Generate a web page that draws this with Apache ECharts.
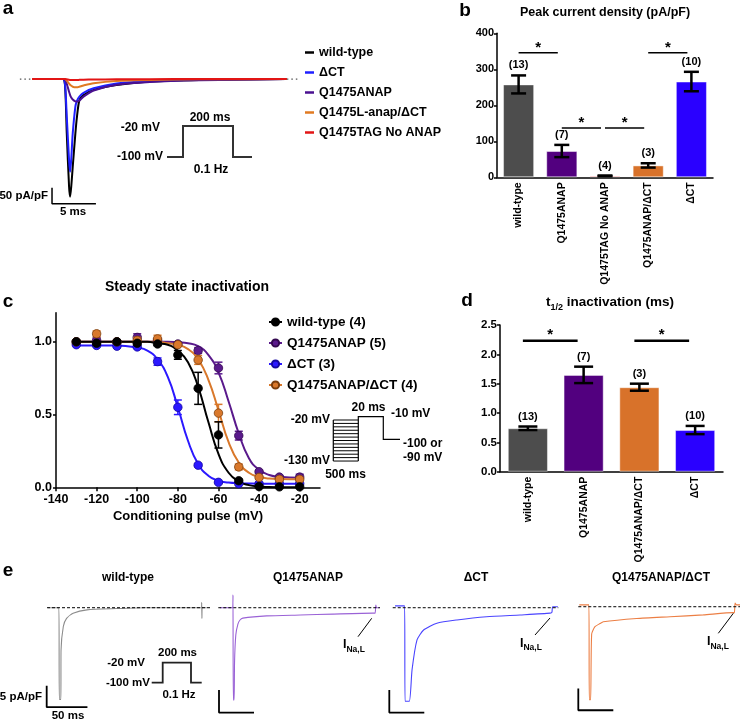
<!DOCTYPE html>
<html><head><meta charset="utf-8">
<script src="https://cdn.jsdelivr.net/npm/echarts@6/dist/echarts.min.js"></script>
<style>html,body{margin:0;padding:0;background:#fff}#c{width:744px;height:721px}</style>
</head><body><div id="c"></div>
<script>
// ---------- Panel a: representative current traces (ms, pA/pF) ----------
const aTime      = [0, 3.5, 3.75, 3.94, 4.2, 4.32, 4.45, 4.62, 4.92, 5.1, 5.38, 5.85, 7.0, 9.6, 13.4, 19, 29];
const aWildType  = [0, 0, -24, -170, -336, -368, -336, -274, -170, -118, -66, -50, -34, -19, -8, -3, 0];
const aDeltaCT   = [0, 0, -20, -118, -253, -290, -250, -170, -86, -68, -55, -43, -29, -14, -6, -2, 0];
const aQ1475ANAP = [0, 0, -3, -15, -40, -50, -58, -64, -70, -71, -67, -55, -36, -18, -9, -4, 0];
const aQ1475L    = [0, 0, 0, -5, -14, -18, -21, -24, -26, -26, -24, -20, -13, -6, -3, -1, 0];
const aTAGNoANAP = [0, 0, 0, -1, -2, -3, -3, -3, -3, -3, -2.5, -2, -1.5, -1, -0.5, 0, 0];
const aLegend = ['wild-type', 'ΔCT', 'Q1475ANAP', 'Q1475L-anap/ΔCT', 'Q1475TAG No ANAP'];

// ---------- Panel b: peak current density ----------
const bCategories = ['wild-type', 'Q1475ANAP', 'Q1475TAG No ANAP', 'Q1475ANAP/ΔCT', 'ΔCT'];
const bMeans  = [258, 73, 4, 33, 266];
const bErrors = [25, 17, 1, 6, 27];
const bN      = [13, 7, 4, 3, 10];
const bSig    = [[0, 1, 346], [1, 2, 137], [2, 3, 137], [3, 4, 346]];

// ---------- Panel c: steady state inactivation ----------
const cVoltage = [-130, -120, -110, -100, -90, -80, -70, -60, -50, -40, -30, -20];
const cWT      = [1.0, 0.99, 1.0, 0.99, 0.985, 0.91, 0.68, 0.36, 0.045, 0.005, 0.003, 0.003];
const cWTErr   = [0, 0.01, 0.005, 0.01, 0.01, 0.03, 0.11, 0.09, 0.01, 0, 0, 0];
const cQ       = [1.0, 1.01, 1.0, 1.03, 1.01, 0.985, 0.94, 0.82, 0.355, 0.107, 0.07, 0.07];
const cQErr    = [0.005, 0.02, 0.01, 0.025, 0.01, 0.01, 0.02, 0.04, 0.03, 0.01, 0.01, 0.02];
const cDCT     = [0.98, 0.975, 0.97, 0.965, 0.864, 0.55, 0.152, 0.034, 0.025, 0.025, 0.025, 0.025];
const cDCTErr  = [0.005, 0.005, 0.01, 0.01, 0.025, 0.05, 0.01, 0.005, 0, 0, 0, 0];
const cQD      = [1.0, 1.055, 1.0, 1.01, 1.02, 0.98, 0.875, 0.51, 0.14, 0.068, 0.055, 0.055];
const cQDErr   = [0, 0.02, 0.005, 0.02, 0.025, 0.01, 0.03, 0.06, 0.02, 0.01, 0.01, 0.01];
// fitted curves
const cFitVoltage = [-130, -120, -110, -100, -95, -90, -85, -80, -75, -70, -65, -60, -55, -50, -45, -40, -35, -30, -20];
const cFitWT  = [1, 1, 1, 1, 1, 0.99, 0.98, 0.94, 0.86, 0.69, 0.45, 0.23, 0.10, 0.04, 0.015, 0.005, 0.002, 0.001, 0];
const cFitQ   = [1, 1, 1, 1, 1, 1, 1, 0.996, 0.99, 0.97, 0.91, 0.79, 0.59, 0.37, 0.20, 0.12, 0.085, 0.072, 0.066];
const cFitDCT = [0.975, 0.975, 0.974, 0.96, 0.94, 0.88, 0.76, 0.55, 0.32, 0.16, 0.08, 0.045, 0.033, 0.028, 0.026, 0.025, 0.025, 0.025, 0.025];
const cFitQD  = [1, 1, 1, 1, 1, 1, 0.99, 0.98, 0.95, 0.88, 0.74, 0.53, 0.31, 0.17, 0.10, 0.072, 0.061, 0.057, 0.055];
const cLegend = ['wild-type (4)', 'Q1475ANAP (5)', 'ΔCT (3)', 'Q1475ANAP/ΔCT (4)'];
const cXTicks = [-140, -120, -100, -80, -60, -40, -20];
const cYTicks = [0, 0.5, 1.0];

// ---------- Panel d: t1/2 inactivation ----------
const dCategories = ['wild-type', 'Q1475ANAP', 'Q1475ANAP/ΔCT', 'ΔCT'];
const dMeans  = [0.74, 1.65, 1.44, 0.71];
const dErrors = [0.03, 0.14, 0.06, 0.07];
const dN      = [13, 7, 3, 10];
const dSig    = [[0, 1, 2.23], [2, 3, 2.23]];

// ---------- Panel e: late current traces (ms, pA/pF) ----------
const eWTTime    = [1, 14.6, 15.1, 17.0, 17.2, 20, 24, 32, 49, 85, 120, 160, 189.5, 189.8, 190.1, 190.4, 196];
const eWTCurrent = [0, 0, -21.5, -21.5, -10, -4.4, -2.5, -1.3, -0.5, -0.2, 0, 0, 0, 1.2, -2.5, 0, 0];
const eQTime     = [2.4, 20.5, 21.0, 21.4, 22.6, 23.2, 25, 28, 31, 35, 69, 117, 164, 221, 224, 225, 226, 230];
const eQCurrent  = [0, 0, 2.8, -20.3, -20.3, -12, -6, -3.6, -2.7, -2.3, -1.8, -1.6, -1.4, -1.2, -1.2, 0.6, 0, 0];
const eDTime     = [3.3, 17, 17.6, 23.7, 27.6, 34.7, 44.1, 63.1, 91.7, 134, 182, 225, 227.5, 228.6, 236];
const eDCurrent  = [0.4, 0.4, -20.6, -20.6, -13.7, -7.1, -4.9, -3.4, -2.7, -2.0, -1.6, -1.2, -1.0, 0.2, 0.2];
const eQDTime    = [1.4, 15.2, 15.7, 17.6, 19.1, 23.8, 31, 35.7, 83.4, 131, 178.6, 221.4, 223, 224, 226, 231];
const eQDCurrent = [0.4, 0.4, -20.5, -20.5, -6, -4.4, -3.7, -3.3, -2.6, -2.2, -1.8, -1.3, -1.3, 0.8, 0.4, 0.4];
const eTitles = ['wild-type', 'Q1475ANAP', 'ΔCT', 'Q1475ANAP/ΔCT'];

// ================= drawing =================
const FONT = '"Liberation Sans", Arial, Helvetica, sans-serif';
const zip = (xs, ys) => xs.map((x, i) => [x, ys[i]]);
const chart = echarts.init(document.getElementById('c'), null, {renderer: 'canvas'});

function txt(x, y, text, size, align, extra) {
  return {type: 'text', x: x, y: y, silent: true, z: 100,
    style: Object.assign({text: text, fontSize: size, fontWeight: 'bold', fontFamily: FONT,
      fill: '#000', align: align || 'center', verticalAlign: 'middle'}, extra || {})};
}
function poly(points, w, color) {
  return {type: 'polyline', silent: true, z: 100, shape: {points: points},
    style: {stroke: color || '#000', lineWidth: w || 1.5, fill: null}};
}
const subRich = (main, sub) => ({m: {fontSize: main, fontWeight: 'bold', fontFamily: FONT, lineHeight: main + 6},
  s: {fontSize: sub, fontWeight: 'bold', fontFamily: FONT, verticalAlign: 'bottom', lineHeight: sub}});

const boldLabel = (size) => ({color: '#000', fontWeight: 'bold', fontSize: size, fontFamily: FONT});
const blackLine = {show: true, lineStyle: {color: '#000', width: 1.5}};

// grids
const grids = [
  {left: 19, top: 40, width: 281, height: 183},          // 0 a
  {left: 497, top: 33.3, width: 216, height: 144},       // 1 b
  {left: 56, top: 312.7, width: 264, height: 174.6},     // 2 c
  {left: 500, top: 325, width: 223, height: 146.7},      // 3 d
  {left: 46.2, top: 594.9, width: 163.8, height: 115.3}, // 4 e wt
  {left: 218.3, top: 594.1, width: 161.7, height: 122.6},// 5 e Q
  {left: 389.3, top: 594.1, width: 169, height: 122.6},  // 6 e dCT
  {left: 578.3, top: 593.1, width: 161.7, height: 122.6} // 7 e QD
];

const xAxes = [
  {gridIndex: 0, type: 'value', min: -1.5, max: 30.5, show: false},
  {gridIndex: 1, type: 'category', data: bCategories, axisLine: blackLine, axisTick: {show: false},
    axisLabel: Object.assign(boldLabel(10.5), {rotate: 90, interval: 0, margin: 5})},
  {gridIndex: 2, type: 'value', min: -140, max: -10, interval: 20, axisLine: blackLine,
    axisTick: {show: true, length: 4, lineStyle: {color: '#000', width: 1.5}, customValues: cXTicks},
    axisLabel: Object.assign(boldLabel(12.5), {margin: 6, customValues: cXTicks}),
    splitLine: {show: false},
    name: 'Conditioning pulse (mV)', nameLocation: 'middle', nameGap: 23,
    nameTextStyle: boldLabel(13)},
  {gridIndex: 3, type: 'category', data: dCategories, axisLine: blackLine, axisTick: {show: false},
    axisLabel: Object.assign(boldLabel(10.5), {rotate: 90, interval: 0, margin: 5})},
  {gridIndex: 4, type: 'value', min: -1, max: 200, show: false},
  {gridIndex: 5, type: 'value', min: 0, max: 231, show: false},
  {gridIndex: 6, type: 'value', min: -4.9, max: 236.6, show: false},
  {gridIndex: 7, type: 'value', min: 0, max: 231, show: false}
];
const yAxes = [
  {gridIndex: 0, type: 'value', min: -450, max: 122, show: false},
  {gridIndex: 1, type: 'value', min: 0, max: 400, interval: 100, axisLine: blackLine,
    axisTick: {show: true, length: 3, lineStyle: {color: '#000', width: 1.5}},
    axisLabel: Object.assign(boldLabel(11), {margin: 3}), splitLine: {show: false}},
  {gridIndex: 2, type: 'value', min: 0, max: 1.2, interval: 0.5, axisLine: blackLine,
    axisTick: {show: true, length: 3, lineStyle: {color: '#000', width: 1.5}, customValues: cYTicks},
    axisLabel: Object.assign(boldLabel(12.5), {margin: 4, customValues: cYTicks, formatter: v => (+v).toFixed(1)}),
    splitLine: {show: false}},
  {gridIndex: 3, type: 'value', min: 0, max: 2.5, interval: 0.5, axisLine: blackLine,
    axisTick: {show: true, length: 3, lineStyle: {color: '#000', width: 1.5}},
    axisLabel: Object.assign(boldLabel(11.5), {margin: 3, formatter: v => (+v).toFixed(1)}), splitLine: {show: false}},
  {gridIndex: 4, type: 'value', min: -24, max: 3, show: false},
  {gridIndex: 5, type: 'value', min: -24, max: 3, show: false},
  {gridIndex: 6, type: 'value', min: -24, max: 3, show: false},
  {gridIndex: 7, type: 'value', min: -24, max: 3, show: false}
];

const series = [];
// ---- a traces
const aColors = {'wild-type': '#000000', 'ΔCT': '#1f1fff', 'Q1475ANAP': '#4a1090', 'Q1475L-anap/ΔCT': '#e07a22', 'Q1475TAG No ANAP': '#e21515'};
const aData = {'wild-type': aWildType, 'ΔCT': aDeltaCT, 'Q1475ANAP': aQ1475ANAP, 'Q1475L-anap/ΔCT': aQ1475L, 'Q1475TAG No ANAP': aTAGNoANAP};
aLegend.forEach(name => {
  series.push({name: name, type: 'line', xAxisIndex: 0, yAxisIndex: 0, data: zip(aTime, aData[name]),
    showSymbol: false, symbol: 'none', smooth: 0.25, lineStyle: {color: aColors[name], width: 2}, itemStyle: {color: aColors[name]}, z: 3});
});
[[[-1.4, 0], [0, 0]], [[29, 0], [30.4, 0]]].forEach(seg => series.push({type: 'line', xAxisIndex: 0, yAxisIndex: 0,
  data: seg, showSymbol: false, symbol: 'none', lineStyle: {color: '#555', width: 1.2, type: [1.5, 3]}, silent: true}));
series.push({type: 'line', xAxisIndex: 0, yAxisIndex: 0, data: [[2.26, -340], [2.26, -390], [7.26, -390]],
  showSymbol: false, symbol: 'none', lineStyle: {color: '#000', width: 1.5}, silent: true, clip: false});

// ---- bar helpers
function errBars(xi, yi, means, errs, ns, capW, lw, gap) {
  return {type: 'custom', xAxisIndex: xi, yAxisIndex: yi, z: 5, silent: true,
    data: means.map((m, i) => [i, m, errs[i], ns[i]]),
    renderItem: (p, api) => {
      const i = api.value(0), m = api.value(1), e = api.value(2), n = api.value(3);
      const hi = api.coord([i, m + e]), lo = api.coord([i, m - e]);
      const x = hi[0], st = {stroke: '#000', lineWidth: lw};
      return {type: 'group', children: [
        {type: 'line', shape: {x1: x, y1: hi[1], x2: x, y2: lo[1]}, style: st},
        {type: 'line', shape: {x1: x - capW / 2, y1: hi[1], x2: x + capW / 2, y2: hi[1]}, style: st},
        {type: 'line', shape: {x1: x - capW / 2, y1: lo[1], x2: x + capW / 2, y2: lo[1]}, style: st},
        {type: 'text', x: x, y: hi[1] - gap, style: {text: '(' + n + ')', fontSize: 11, fontWeight: 'bold', fontFamily: FONT, fill: '#000', align: 'center', verticalAlign: 'middle'}}
      ]};
    }};
}
function sigBars(xi, yi, sig, d1, d2, lw, starGap) {
  return {type: 'custom', xAxisIndex: xi, yAxisIndex: yi, z: 5, silent: true, data: sig,
    renderItem: (p, api) => {
      const a = api.coord([api.value(0), api.value(2)]), b = api.coord([api.value(1), api.value(2)]);
      const x1 = a[0] + d1, x2 = b[0] + d2;
      return {type: 'group', children: [
        {type: 'line', shape: {x1: x1, y1: a[1], x2: x2, y2: a[1]}, style: {stroke: '#000', lineWidth: lw}},
        {type: 'text', x: (x1 + x2) / 2, y: a[1] - starGap, style: {text: '*', fontSize: 15, fontWeight: 'bold', fontFamily: FONT, fill: '#000', align: 'center', verticalAlign: 'middle'}}
      ]};
    }};
}
// ---- b
const bColors = ['#4d4d4d', '#52007f', '#e41a1c', '#d8722a', '#2a00ff'];
series.push({type: 'bar', xAxisIndex: 1, yAxisIndex: 1, barWidth: '72%', z: 2,
  data: bMeans.map((v, i) => ({value: v, itemStyle: {color: bColors[i], borderColor: 'rgba(255,255,255,0.45)', borderWidth: 1}}))});
series.push(errBars(1, 1, bMeans, bErrors, bN, 15, 2.5, 10));
series.push(sigBars(1, 1, bSig, 0, -4, 1.5, 5));

// ---- c
const cSets = [
  {name: cLegend[1], pts: cQ, err: cQErr, fit: cFitQ, color: '#5a1a8c', edge: '#33084f'},
  {name: cLegend[2], pts: cDCT, err: cDCTErr, fit: cFitDCT, color: '#2b18ff', edge: '#1508a0'},
  {name: cLegend[3], pts: cQD, err: cQDErr, fit: cFitQD, color: '#d9782b', edge: '#7a3d0c'},
  {name: cLegend[0], pts: cWT, err: cWTErr, fit: cFitWT, color: '#000000', edge: '#000000'}
];
cSets.forEach(s => {
  series.push({name: s.name, type: 'line', xAxisIndex: 2, yAxisIndex: 2, data: zip(cFitVoltage, s.fit),
    smooth: 0.5, showSymbol: false, symbol: 'circle', lineStyle: {color: s.color, width: 2},
    itemStyle: {color: s.color, borderColor: s.edge, borderWidth: 0.8}, z: 2});
});
cSets.forEach((s, k) => {
  series.push({type: 'custom', xAxisIndex: 2, yAxisIndex: 2, z: 3 + k * 2, silent: true,
    data: cVoltage.map((v, i) => [v, s.pts[i], s.err[i]]),
    renderItem: (p, api) => {
      const v = api.value(0), m = api.value(1), e = api.value(2);
      if (e <= 0) return null;
      const hi = api.coord([v, m + e]), lo = api.coord([v, m - e]);
      const st = {stroke: s.color, lineWidth: 1.5};
      return {type: 'group', children: [
        {type: 'line', shape: {x1: hi[0], y1: hi[1], x2: lo[0], y2: lo[1]}, style: st},
        {type: 'line', shape: {x1: hi[0] - 4, y1: hi[1], x2: hi[0] + 4, y2: hi[1]}, style: st},
        {type: 'line', shape: {x1: lo[0] - 4, y1: lo[1], x2: lo[0] + 4, y2: lo[1]}, style: st}
      ]};
    }});
  series.push({type: 'scatter', xAxisIndex: 2, yAxisIndex: 2, data: zip(cVoltage, s.pts), symbol: 'circle', symbolSize: 8.5,
    itemStyle: {color: s.color, borderColor: s.edge, borderWidth: 0.8, opacity: 1}, z: 4 + k * 2, silent: true});
});

// ---- d
const dColors = ['#4d4d4d', '#52007f', '#d8722a', '#2a00ff'];
series.push({type: 'bar', xAxisIndex: 3, yAxisIndex: 3, barWidth: '72%', z: 2,
  data: dMeans.map((v, i) => ({value: v, itemStyle: {color: dColors[i], borderColor: 'rgba(255,255,255,0.45)', borderWidth: 1}}))});
series.push(errBars(3, 3, dMeans, dErrors, dN, 19, 2.5, 10));
series.push(sigBars(3, 3, dSig, -5, -6, 2.5, 6));

// ---- e
const eSets = [
  {g: 4, t: eWTTime, c: eWTCurrent, color: '#8c8c8c', end: 200, bar: [[-0.4, -18.3], [-0.4, -23.3], [49.6, -23.3]]},
  {g: 5, t: eQTime, c: eQCurrent, color: '#9a62d6', end: 231, bar: [[1, -18.1], [1, -23.1], [51, -23.1]]},
  {g: 6, t: eDTime, c: eDCurrent, color: '#4a44ff', end: 236.6, bar: [[-4.9, -18.1], [-4.9, -23.1], [45.1, -23.1]]},
  {g: 7, t: eQDTime, c: eQDCurrent, color: '#ec7f45', end: 231, bar: [[0, -18], [0, -22.8], [50, -22.8]]}
];
eSets.forEach(s => {
  series.push({type: 'line', xAxisIndex: s.g, yAxisIndex: s.g, data: zip(s.t, s.c), showSymbol: false, symbol: 'none',
    smooth: 0.2, lineStyle: {color: s.color, width: 1.1}, z: 2, silent: true});
  series.push({type: 'line', xAxisIndex: s.g, yAxisIndex: s.g, data: [[0, 0], [s.end, 0]], showSymbol: false, symbol: 'none',
    lineStyle: {color: '#000', width: 1, type: [3, 2]}, z: 3, silent: true});
  series.push({type: 'line', xAxisIndex: s.g, yAxisIndex: s.g, data: s.bar, showSymbol: false, symbol: 'none',
    lineStyle: {color: '#000', width: 1.8}, z: 3, silent: true, clip: false});
});

// ---- graphics (labels, protocols)
const g = [];
g.push(txt(8, 9, 'a', 19), txt(465, 11, 'b', 19), txt(8, 302, 'c', 19), txt(467, 300.5, 'd', 19), txt(8, 571, 'e', 19));
// a
g.push(txt(48, 196, '50 pA/pF', 11.5, 'right'), txt(73, 212, '5 ms', 11.5));
g.push(poly([[167, 157], [183, 157], [183, 126], [233, 126], [233, 157], [252, 157]], 2, '#333'));
g.push(txt(160, 128, '-20 mV', 12, 'right'), txt(163, 157, '-100 mV', 12, 'right'), txt(210, 118, '200 ms', 12), txt(211, 170, '0.1 Hz', 12));
// b
g.push(txt(605, 13, 'Peak current density (pA/pF)', 12.5));
// c
g.push(txt(187, 287, 'Steady state inactivation', 14));
const stairs = [];
for (let i = 0; i < 13; i++) stairs.push(poly([[333.3, 420 + i * 3.42], [358.3, 420 + i * 3.42]], 1));
g.push(...stairs);
g.push(poly([[333.3, 420], [333.3, 461]], 1.2), poly([[358.3, 461], [358.3, 416.7], [383.3, 416.7], [383.3, 439.3], [400, 439.3]], 1.2));
g.push(txt(330, 420, '-20 mV', 12, 'right'), txt(330, 460.5, '-130 mV', 12, 'right'), txt(345.5, 474.5, '500 ms', 12),
  txt(368.5, 408, '20 ms', 12), txt(391, 413.5, '-10 mV', 12, 'left'), txt(403, 443.5, '-100 or', 12, 'left'), txt(403, 457.5, '-90 mV', 12, 'left'));
// d
g.push({type: 'text', x: 610, y: 302, silent: true, z: 100, style: {text: '{m|t}{s|1/2}{m| inactivation (ms)}', rich: subRich(13.5, 9),
  fill: '#000', align: 'center', verticalAlign: 'middle', fontFamily: FONT}});
// e
g.push(txt(128, 578, eTitles[0], 12), txt(308, 578, eTitles[1], 12), txt(476, 578, eTitles[2], 12), txt(661, 578, eTitles[3], 12));
g.push(txt(42, 697, '5 pA/pF', 11.5, 'right'), txt(68, 716, '50 ms', 11.5));
g.push(poly([[151.7, 682.7], [162.7, 682.7], [162.7, 662.7], [191, 662.7], [191, 682.7], [201.7, 682.7]], 1.8, '#222'));
g.push(txt(145, 663, '-20 mV', 11.5, 'right'), txt(150, 683, '-100 mV', 11.5, 'right'), txt(177.5, 653, '200 ms', 11.5), txt(179, 694.5, '0.1 Hz', 11.5));
[[343, 645, 358, 636.7, 371.7, 618.3], [520, 643.3, 535, 635, 550, 618], [707, 641.7, 718.3, 633.3, 733.3, 613.3]].forEach(q => {
  g.push({type: 'text', x: q[0], y: q[1], silent: true, z: 100, style: {text: '{m|I}{s|Na,L}', rich: subRich(12.5, 8.5),
    fill: '#000', align: 'left', verticalAlign: 'middle', fontFamily: FONT}});
  g.push(poly([[q[2], q[3]], [q[4], q[5]]], 1));
});

chart.setOption({
  animation: false,
  backgroundColor: '#fff',
  textStyle: {fontFamily: FONT},
  grid: grids, xAxis: xAxes, yAxis: yAxes, series: series,
  legend: [
    {data: aLegend, orient: 'vertical', left: 305, top: 46, padding: 0, itemGap: 7, itemWidth: 9, itemHeight: 2.5,
      icon: 'rect', selectedMode: false, textStyle: boldLabel(12.5)},
    {data: cLegend, orient: 'vertical', left: 268, top: 315, padding: 0, itemGap: 7, itemWidth: 13, itemHeight: 9,
      selectedMode: false, textStyle: boldLabel(13.5)}
  ],
  graphic: g
});
</script></body></html>
